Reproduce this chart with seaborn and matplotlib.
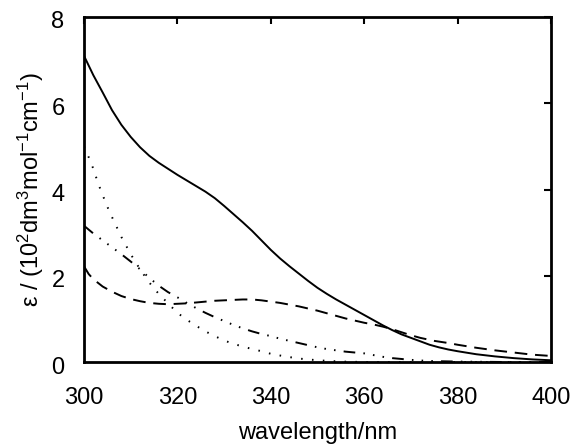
import numpy as np
import pandas as pd
import matplotlib
matplotlib.use("Agg")
import matplotlib.pyplot as plt
import matplotlib.transforms as mtrans
import seaborn as sns

# wavelength (nm) and absorption (10^2 dm^3 mol^-1 cm^-1)
wl_solid = [300, 302, 304, 306, 308, 310, 312, 314, 316, 318, 320, 322, 324, 326, 328, 330,
            332, 334, 336, 338, 340, 342, 344, 346, 348, 350, 352, 354, 356, 358, 360, 362,
            364, 366, 368, 370, 372, 374, 376, 378, 380, 384, 388, 392, 396, 400]
eps_solid = [7.1, 6.65, 6.25, 5.84, 5.5, 5.22, 4.98, 4.78, 4.62, 4.48, 4.34, 4.21, 4.08, 3.95, 3.8, 3.62,
             3.43, 3.24, 3.04, 2.82, 2.6, 2.4, 2.22, 2.05, 1.88, 1.72, 1.58, 1.45, 1.33, 1.21, 1.09, 0.97,
             0.85, 0.74, 0.64, 0.56, 0.48, 0.4, 0.34, 0.29, 0.25, 0.18, 0.13, 0.09, 0.06, 0.04]

wl_dash = [300, 301, 302, 304, 306, 308, 310, 312, 314, 316, 318, 320, 322, 324, 326, 328, 330,
           332, 334, 336, 338, 340, 342, 344, 346, 348, 350, 352, 354, 356, 358, 360, 362, 364,
           366, 368, 370, 372, 375, 378, 380, 384, 388, 392, 396, 400]
eps_dash = [2.22, 2.04, 1.92, 1.75, 1.63, 1.53, 1.46, 1.41, 1.37, 1.35, 1.34, 1.35, 1.36, 1.38, 1.4, 1.42, 1.43,
            1.44, 1.45, 1.45, 1.43, 1.4, 1.37, 1.33, 1.29, 1.24, 1.19, 1.13, 1.07, 1.01, 0.96, 0.91, 0.87, 0.82,
            0.76, 0.69, 0.62, 0.56, 0.49, 0.44, 0.4, 0.33, 0.27, 0.22, 0.17, 0.14]

wl_dashdot = [300, 302, 304, 306, 308, 310, 312, 314, 316, 318, 320, 322, 324, 326, 328, 330,
              332, 334, 336, 338, 340, 342, 344, 346, 348, 350, 352, 354, 356, 358, 360, 362,
              364, 366, 368, 370, 372, 375, 380, 390, 400]
eps_dashdot = [3.16, 2.98, 2.82, 2.66, 2.5, 2.33, 2.15, 1.95, 1.77, 1.62, 1.5, 1.37, 1.25, 1.14, 1.04, 0.95,
               0.86, 0.78, 0.71, 0.65, 0.6, 0.54, 0.49, 0.44, 0.39, 0.34, 0.3, 0.27, 0.24, 0.22, 0.2, 0.16,
               0.12, 0.09, 0.07, 0.05, 0.035, 0.02, 0.01, 0.0, 0.0]

wl_dot = [300, 301, 302, 303, 304, 305, 306, 307, 308, 309, 310, 312, 314, 316, 318, 320, 322, 324,
          326, 328, 330, 332, 334, 336, 338, 340, 343, 346, 350, 355, 360, 370, 380, 390, 400]
eps_dot = [5.0, 4.75, 4.48, 4.15, 3.87, 3.6, 3.36, 3.13, 2.9, 2.7, 2.5, 2.15, 1.84, 1.58, 1.36, 1.14, 0.98, 0.84,
           0.71, 0.6, 0.5, 0.42, 0.36, 0.3, 0.25, 0.19, 0.13, 0.08, 0.04, 0.01, 0.0, 0.0, 0.0, 0.0, 0.0]

x_ticks = [300, 320, 340, 360, 380, 400]
y_ticks = [0, 2, 4, 6, 8]

sns.set_style("white")
plt.rcParams['font.family'] = ['Liberation Sans', 'DejaVu Sans']
plt.rcParams['mathtext.default'] = 'regular'
plt.rcParams['text.color'] = 'black'
plt.rcParams['axes.labelcolor'] = 'black'

fig = plt.figure(figsize=(5.72, 4.47), dpi=100)
ax = fig.add_axes([84/572, (447-362)/447, (551-84)/572, (362-17)/447])

series = [
    ("solid", wl_solid, eps_solid, "-"),
    ("dashed", wl_dash, eps_dash, (0, (6.5, 4.0))),
    ("dashdot", wl_dashdot, eps_dashdot, (0, (6.0, 4.2, 0.8, 4.2, 0.8, 4.2, 0.8, 4.2))),
    ("dotted", wl_dot, eps_dot, (0, (0.8, 4.8))),
]
for name, x, y, ls in series:
    df = pd.DataFrame({"wavelength": x, "eps": y})
    sns.lineplot(data=df, x="wavelength", y="eps", ax=ax, color="black",
                 linewidth=1.4, linestyle=ls, estimator=None, sort=True)

ax.set_xlim(300, 400)
ax.set_ylim(0, 8)
ax.set_xticks(x_ticks)
ax.set_yticks(y_ticks)
ax.tick_params(direction="in", length=5, width=1.5, top=True, right=True,
               labelsize=17, colors="black", labelcolor="black")
ax.tick_params(axis="x", pad=18)
ax.tick_params(axis="y", pad=14)
offset = mtrans.ScaledTranslation(0, -3/100, fig.dpi_scale_trans)
for lbl in ax.get_yticklabels():
    lbl.set_transform(lbl.get_transform() + offset)
for s in ax.spines.values():
    s.set_visible(True)
    s.set_linewidth(2)
    s.set_color("black")
ax.set_xlabel("wavelength/nm", fontsize=17, labelpad=9, color="black")
ax.set_ylabel(r"ε / (10$^2$dm$^3$mol$^{-1}$cm$^{-1}$)", fontsize=17, labelpad=4, color="black")
ax.grid(False)

fig.savefig("out.png", dpi=100)
